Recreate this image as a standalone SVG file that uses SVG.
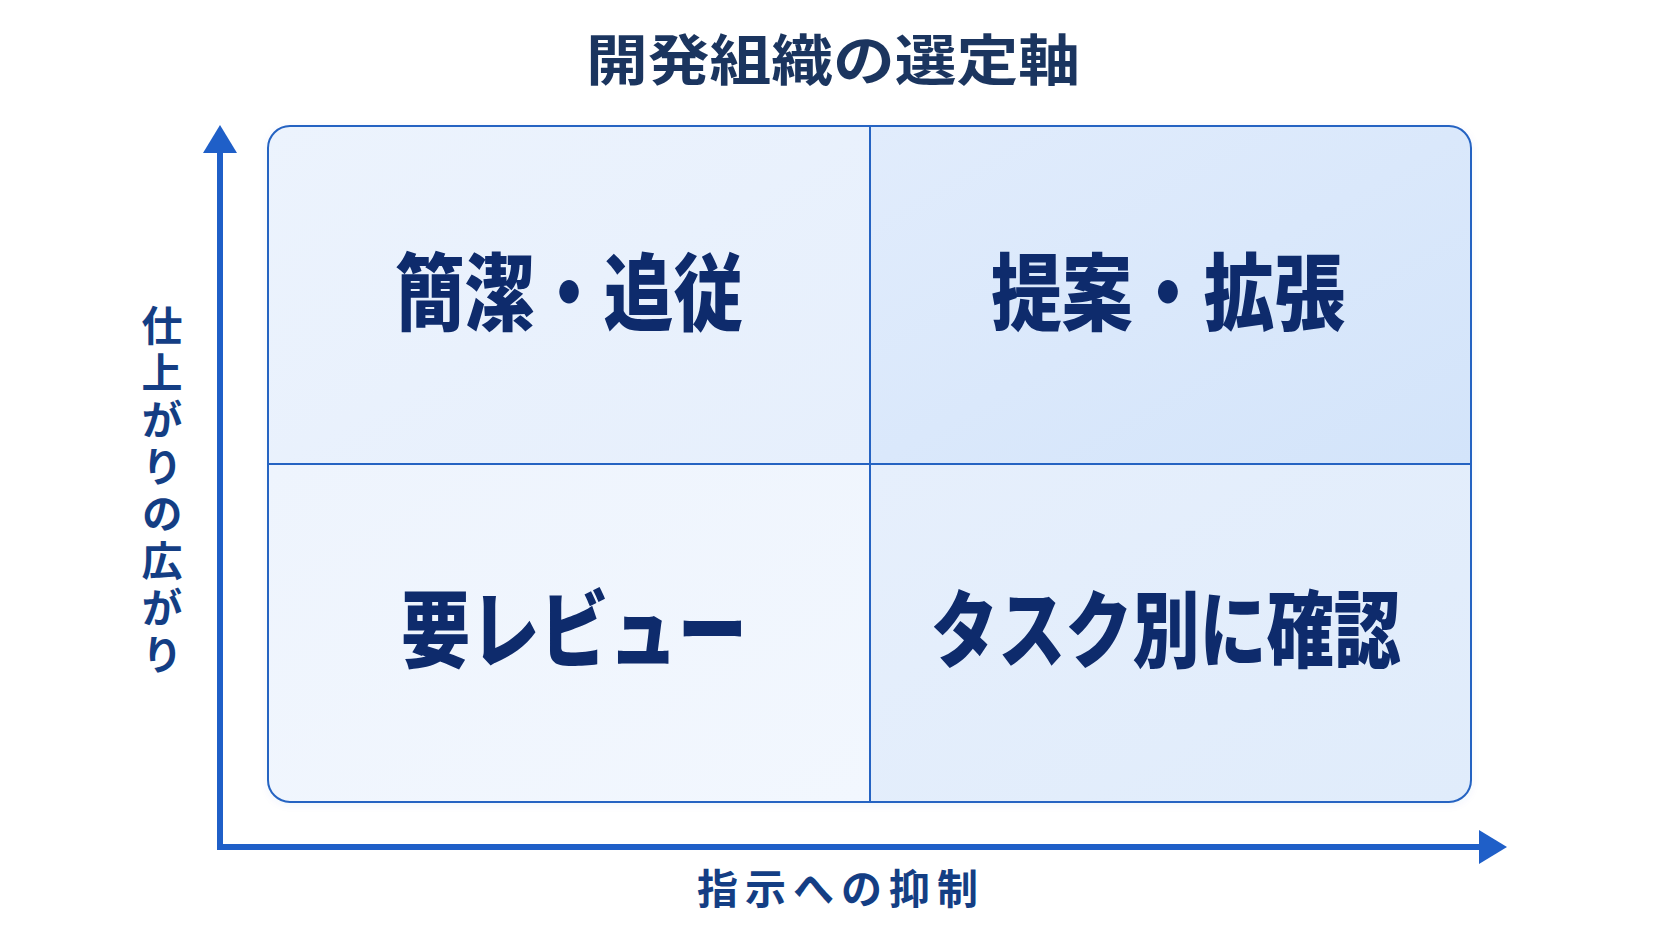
<svg xmlns="http://www.w3.org/2000/svg" width="1672" height="941" viewBox="0 0 1672 941">
<style>
.title{font-family:"Noto Sans CJK JP","Noto Sans",sans-serif;font-size:55px;font-weight:700;fill:#1b355f;text-anchor:middle}
.quad{font-family:"Noto Sans CJK JP","Noto Sans",sans-serif;font-size:84px;font-weight:900;fill:#0e2b6c;text-anchor:middle}
.axis{font-family:"Noto Sans CJK JP","Noto Sans",sans-serif;font-size:41px;font-weight:700;fill:#143e84}
.grid{stroke:#2563c2;stroke-width:2;fill:none}
.ax{stroke:#1f5fc8;stroke-width:6;fill:none}
</style>
<defs>
<linearGradient id="gTL" x1="0" y1="0" x2="1" y2="1"><stop offset="0" stop-color="#ecf3fd"/><stop offset="1" stop-color="#e6effc"/></linearGradient>
<linearGradient id="gTR" x1="0" y1="0" x2="1" y2="1"><stop offset="0" stop-color="#e1ecfc"/><stop offset="1" stop-color="#d3e4fa"/></linearGradient>
<linearGradient id="gBL" x1="0" y1="0" x2="1" y2="1"><stop offset="0" stop-color="#eef4fd"/><stop offset="1" stop-color="#f2f7fe"/></linearGradient>
<linearGradient id="gBR" x1="0" y1="0" x2="1" y2="1"><stop offset="0" stop-color="#e6effc"/><stop offset="1" stop-color="#e0ecfb"/></linearGradient>
<clipPath id="boxClip"><rect x="268" y="126" width="1203" height="676" rx="22" ry="22"/></clipPath>
<marker id="arrow" markerUnits="userSpaceOnUse" markerWidth="28" markerHeight="34" refX="2" refY="17" orient="auto"><path d="M0,0 L28,17 L0,34 Z" fill="#1f5fc8"/></marker>
<filter id="sh" x="-5%" y="-5%" width="110%" height="110%"><feDropShadow dx="0" dy="2" stdDeviation="4" flood-color="#1f5fc8" flood-opacity="0.08"/></filter>
</defs>
<rect width="1672" height="941" fill="#ffffff"/>
<g id="title"><text class="title" x="833" y="80" textLength="494" lengthAdjust="spacingAndGlyphs">開発組織の選定軸</text></g>
<rect x="268" y="126" width="1203" height="676" rx="22" ry="22" fill="#eaf2fc" filter="url(#sh)"/>
<g clip-path="url(#boxClip)">
<g id="quadrant-top-left"><rect x="268" y="126" width="602" height="338" fill="url(#gTL)"/><text class="quad" x="569" y="324" textLength="348" lengthAdjust="spacingAndGlyphs">簡潔・追従</text></g>
<g id="quadrant-top-right"><rect x="870" y="126" width="601" height="338" fill="url(#gTR)"/><text class="quad" x="1168" y="324" textLength="354" lengthAdjust="spacingAndGlyphs">提案・拡張</text></g>
<g id="quadrant-bottom-left"><rect x="268" y="464" width="602" height="338" fill="url(#gBL)"/><text class="quad" x="574" y="661" textLength="346" lengthAdjust="spacingAndGlyphs">要レビュー</text></g>
<g id="quadrant-bottom-right"><rect x="870" y="464" width="601" height="338" fill="url(#gBR)"/><text class="quad" x="1166" y="661" textLength="470" lengthAdjust="spacingAndGlyphs">タスク別に確認</text></g>
</g>
<g id="grid">
<rect class="grid" x="268" y="126" width="1203" height="676" rx="22" ry="22"/>
<line class="grid" x1="870" y1="126" x2="870" y2="802"/>
<line class="grid" x1="268" y1="464" x2="1471" y2="464"/>
</g>
<g id="connectors">
<path class="ax" d="M220,847 L220,151" marker-end="url(#arrow)"/>
<path class="ax" d="M217,847 L1481,847" marker-end="url(#arrow)"/>
</g>
<g id="axis-y-label"><text class="axis" x="162" y="493" writing-mode="vertical-rl" text-anchor="middle" letter-spacing="6">仕上がりの広がり</text></g>
<g id="axis-x-label"><text class="axis" x="841" y="904" text-anchor="middle" letter-spacing="7">指示への抑制</text></g>
</svg>
